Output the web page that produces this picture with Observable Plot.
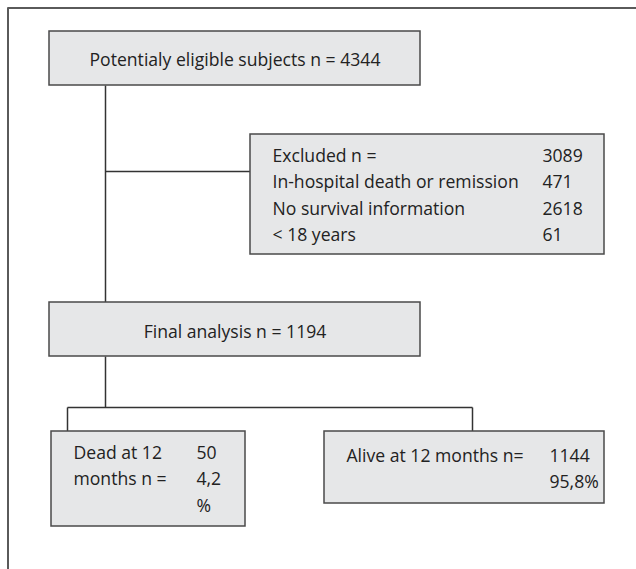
<!DOCTYPE html>
<html>
<head>
<meta charset="utf-8">
<script src="https://cdn.jsdelivr.net/npm/d3@7"></script>
<script src="https://cdn.jsdelivr.net/npm/@observablehq/plot@0.6"></script>
<style>
  html, body { margin: 0; padding: 0; background: #fff; }
  #chart svg { display: block; }
</style>
</head>
<body>
<div id="chart"></div>
<script>
// ---- data ----
const stageLabels = ["Potentialy eligible subjects n = 4344", "Final analysis n = 1194"];
const excludedLabels = ["Excluded n =", "In-hospital death or remission", "No survival information", "< 18 years"];
const excludedCounts = ["3089", "471", "2618", "61"];
const deadLabels = ["Dead at 12", "months n =", ""];
const deadValues = ["50", "4,2", "%"];
const aliveLabels = ["Alive at 12 months n=", ""];
const aliveValues = ["1144", "95,8%"];

// ---- layout (diagram geometry, pixel units on identity scales) ----
const boxes = [
  {id: "eligible", x1: 49, x2: 420, y1: 31, y2: 85},
  {id: "excluded", x1: 250, x2: 604, y1: 134, y2: 254},
  {id: "final", x1: 49, x2: 420, y1: 302, y2: 356},
  {id: "dead", x1: 51, x2: 245, y1: 431, y2: 526},
  {id: "alive", x1: 324, x2: 604, y1: 431, y2: 503}
];
const connectors = [
  {x1: 105, y1: 85, x2: 105, y2: 302},
  {x1: 105, y1: 171, x2: 250, y2: 171},
  {x1: 105, y1: 356, x2: 105, y2: 407},
  {x1: 67, y1: 407, x2: 472, y2: 407},
  {x1: 67, y1: 407, x2: 67, y2: 431},
  {x1: 472, y1: 407, x2: 472, y2: 431}
];
const rowStep = 26.6;

const texts = [];
texts.push({x: 234.5, y: 65, t: stageLabels[0], a: "middle"});
texts.push({x: 234.5, y: 337, t: stageLabels[1], a: "middle"});
excludedLabels.forEach((t, i) => {
  texts.push({x: 272, y: 161 + i * rowStep, t, a: "start"});
  texts.push({x: 542, y: 161 + i * rowStep, t: excludedCounts[i], a: "start"});
});
deadLabels.forEach((t, i) => {
  texts.push({x: 73, y: 458 + i * rowStep, t, a: "start"});
  texts.push({x: 196, y: 458 + i * rowStep, t: deadValues[i], a: "start"});
});
aliveLabels.forEach((t, i) => {
  texts.push({x: 346, y: 461 + i * rowStep, t, a: "start"});
  texts.push({x: 549, y: 461 + i * rowStep, t: aliveValues[i], a: "start"});
});

const chart = Plot.plot({
  width: 636,
  height: 569,
  margin: 0,
  x: {domain: [0, 636], range: [0, 636], axis: null},
  y: {domain: [0, 569], range: [0, 569], axis: null},
  style: {fontFamily: "'Open Sans', sans-serif", background: "#fff"},
  marks: [
    Plot.ruleY([7.5], {x1: 7.5, x2: 636, stroke: "#5a5a5a", strokeWidth: 2}),
    Plot.ruleX([7.5], {y1: 7.5, y2: 569, stroke: "#5a5a5a", strokeWidth: 2}),
    Plot.link(connectors, {x1: "x1", y1: "y1", x2: "x2", y2: "y2", stroke: "#333", strokeWidth: 1.5}),
    Plot.rect(boxes, {x1: "x1", x2: "x2", y1: "y1", y2: "y2", fill: "#e6e7e8", stroke: "#4a4a4a", strokeWidth: 1.5}),
    Plot.text(texts.filter(d => d.a === "middle"), {x: "x", y: "y", text: "t", textAnchor: "middle", lineAnchor: "bottom", fontSize: 17.6, fill: "#222"}),
    Plot.text(texts.filter(d => d.a === "start"), {x: "x", y: "y", text: "t", textAnchor: "start", lineAnchor: "bottom", fontSize: 17.6, fill: "#222"})
  ]
});
document.getElementById("chart").appendChild(chart);
</script>
</body>
</html>
